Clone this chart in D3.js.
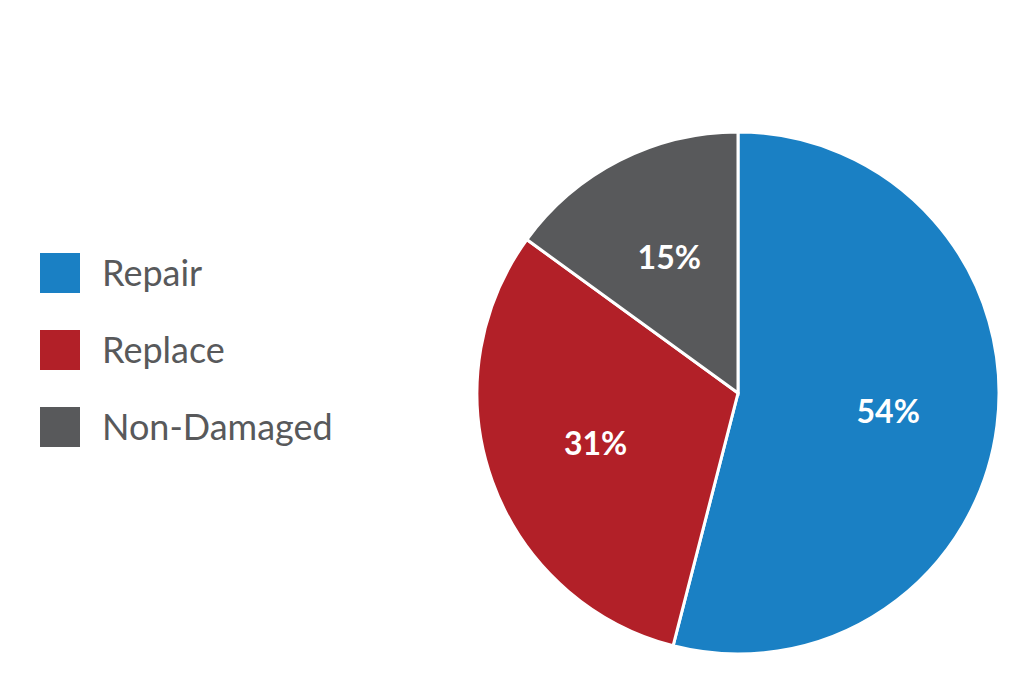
<!DOCTYPE html>
<html><head><meta charset="utf-8">
<script src="https://cdn.jsdelivr.net/npm/d3@7"></script>
<style>body{margin:0;background:#fff}</style></head>
<body><svg id="c" width="1032" height="691"></svg>
<script>
const categories = ["Repair","Replace","Non-Damaged"];
const values = [54,31,15];
const colors = ["#1a80c4","#b22028","#58595b"];
const svg = d3.select("#c");
const cx=738, cy=393, R=261;
const pie = d3.pie().sort(null).value(d=>d)(values);
const arc = d3.arc().innerRadius(0).outerRadius(R);
const lab = d3.arc().innerRadius(R*0.58).outerRadius(R*0.58);
const g = svg.append("g").attr("transform",`translate(${cx},${cy})`);
g.selectAll("path").data(pie).join("path").attr("d",arc)
 .attr("fill",(d,i)=>colors[i]).attr("stroke","#fff").attr("stroke-width",3);
g.selectAll("text").data(pie).join("text")
 .attr("transform",d=>`translate(${lab.centroid(d)})`)
 .attr("text-anchor","middle").attr("dy","0.35em")
 .attr("fill","#fff").attr("font-family","Lato, 'Open Sans', sans-serif")
 .attr("font-weight","bold").attr("font-size",32)
 .text(d=>d.data+"%");
const lg = svg.append("g");
categories.forEach((c,i)=>{
  lg.append("rect").attr("x",40).attr("y",253+i*77).attr("width",40).attr("height",40).attr("fill",colors[i]);
  lg.append("text").attr("x",102).attr("y",273+i*77).attr("dy","0.35em")
   .attr("font-family","Lato, 'Open Sans', sans-serif").attr("font-size",36)
   .attr("fill","#58595b").text(c);
});
</script></body></html>
